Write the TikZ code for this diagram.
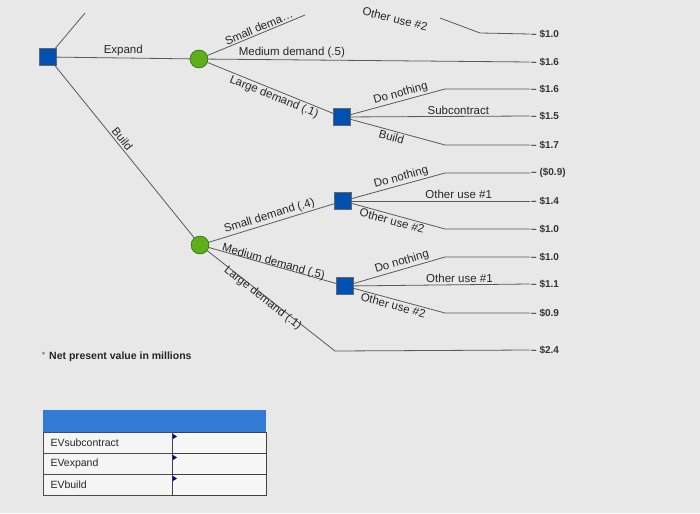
\documentclass[tikz,border=0pt]{standalone}
\usepackage{fontspec}
\setmainfont{Liberation Sans}
\begin{document}
\begin{tikzpicture}[x=1pt,y=-1pt,
  ln/.style={draw=black!65,line width=0.8pt},
  dec/.style={draw=black!60,fill=blue!55!cyan!70!black,minimum size=17pt,inner sep=0pt},
  chc/.style={circle,draw=green!35!black,fill=green!50!black!70!yellow!90,minimum size=18pt,inner sep=0pt},
  lab/.style={font=\fontsize{11.5}{13}\selectfont,text=black!85,inner sep=1.5pt},
  val/.style={font=\bfseries\fontsize{10}{12}\selectfont,text=black!80,anchor=west,inner sep=1pt}]
\fill[black!9] (0,0) rectangle (700,513);
\useasboundingbox (0,0) rectangle (700,513);
% nodes
\node[dec] (r) at (48,57) {};
\node[chc] (c1) at (199,59) {};
\node[dec] (d1) at (342,117) {};
\node[chc] (c2) at (200,245) {};
\node[dec] (d2) at (343,201) {};
\node[dec] (d3) at (345,286) {};
\coordinate (top) at (85,13);
\coordinate (sd) at (305,15);
% root branches
\draw[ln] (r) -- (top);
\draw[ln] (r) -- node[lab,above,pos=0.5] {Expand} (c1);
\draw[ln] (r) -- node[lab,above,sloped,pos=0.45] {Build} (c2);
% expand branches
\draw[ln] (c1) -- node[lab,above,sloped,pos=0.55] {Small dema\ldots} (sd);
\coordinate (m1) at (530,62);
\draw[ln] (c1) -- node[lab,above,pos=0.26] {Medium demand (.5)} (m1);
\node[val] (v2) at (530,62) {-- \$1.6};
\draw[ln] (c1) -- node[lab,below,sloped,pos=0.55] {Large demand (.1)} (d1);
% top other use #2
\coordinate (t1) at (440,18); \coordinate (t2) at (480,33); \coordinate (t3) at (530,34);
\draw[ln] (t1) -- (t2) -- (t3);
\node[lab,rotate=-14] (ou) at (395,19) {Other use \#2};
\node[val] (v1) at (530,34) {-- \$1.0};
% generic fan
\foreach \n/\y/\ya/\yb/\yc/\la/\lb/\lc/\va/\vb/\vc in {
  d1/117/89/116/145/Do nothing/Subcontract/Build/\$1.6/\$1.5/\$1.7,
  d2/201/173/201/229/Do nothing/Other use \#1/Other use \#2/(\$0.9)/\$1.4/\$1.0,
  d3/286/257/284/313/Do nothing/Other use \#1/Other use \#2/\$1.0/\$1.1/\$0.9}{
  \coordinate (\n a) at (445,\ya); \coordinate (\n ae) at (530,\ya);
  \coordinate (\n b) at (530,\yb);
  \coordinate (\n c) at (445,\yc); \coordinate (\n ce) at (530,\yc);
  \draw[ln] (\n) -- node[lab,above,sloped,pos=0.55] {\la} (\n a) -- (\n ae);
  \draw[ln] (\n) -- node[lab,above,pos=0.6] {\lb} (\n b);
  \draw[ln] (\n) -- node[lab,below,sloped,pos=0.45] {\lc} (\n c) -- (\n ce);
  \node[val] at (530,\ya) {-- \va};
  \node[val] at (530,\yb) {-- \vb};
  \node[val] at (530,\yc) {-- \vc};
}
% build branches
\draw[ln] (c2) -- node[lab,above,sloped,pos=0.5] {Small demand (.4)} (d2);
\draw[ln] (c2) -- node[lab,above,sloped,pos=0.5,yshift=-4pt] {Medium demand (.5)} (d3);
\coordinate (l1) at (335,351); \coordinate (l2) at (530,350);
\draw[ln] (c2) -- node[lab,below,sloped,pos=0.45,yshift=4pt] {Large demand (.1)} (l1) -- (l2);
\node[val] at (530,350) {-- \$2.4};
% note
\node[lab,font=\bfseries\fontsize{10.5}{12}\selectfont,anchor=west] (note) at (40,357) {$^{\ast}$\ Net present value in millions};
% table
\fill[blue!55!cyan!80!black!80] (43,410) rectangle (266,432);
\foreach \i/\t in {0/EVsubcontract,1/EVexpand,2/EVbuild}{
  \draw[black!70,fill=black!4] (43,432+21*\i) rectangle (172,453+21*\i);
  \draw[black!75,line width=1pt,fill=black!3] (172,432+21*\i) rectangle (266,453+21*\i);
  \node[font=\fontsize{10.5}{12}\selectfont,anchor=west,text=black!85] (t\i) at (47,442.5+21*\i) {\t};
  \fill[blue!60!black] (173,434+21*\i) -- (177,436.5+21*\i) -- (173,439+21*\i) -- cycle;
}
\end{tikzpicture}
\end{document}
